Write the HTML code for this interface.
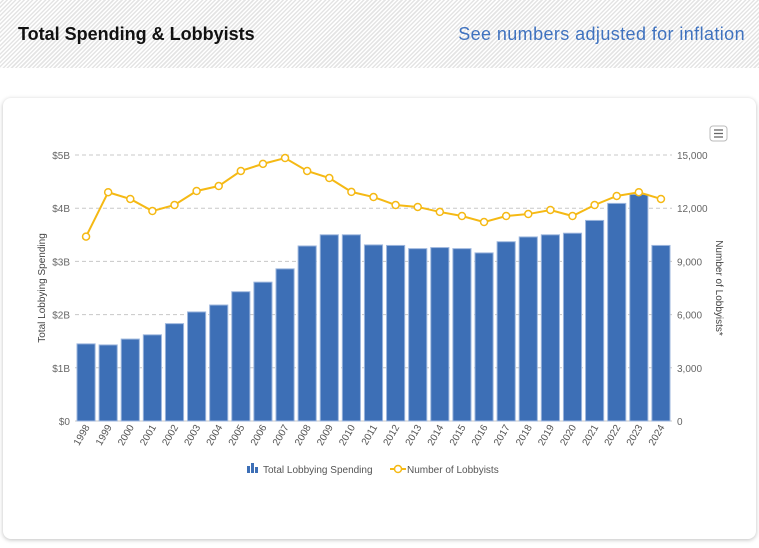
<!DOCTYPE html>
<html><head><meta charset="utf-8"><style>
html,body{margin:0;padding:0;width:759px;height:548px;overflow:hidden;background:#fff;font-family:"Liberation Sans",sans-serif}
#hdr{position:absolute;left:0;top:0;width:759px;height:68px;background:repeating-linear-gradient(135deg,#fff 0 1.5px,#e4e4e4 1.5px 3px)}
#title{position:absolute;left:18px;top:24px;font-size:18px;font-weight:bold;color:#111}
#link{position:absolute;right:14px;top:24px;font-size:18px;letter-spacing:0.4px;color:#3f72bf}
#card{position:absolute;left:3px;top:98px;width:753px;height:441px;border-radius:8px;background:#fff;box-shadow:0 1px 4px rgba(0,0,0,.25)}
svg{position:absolute;left:0;top:0}
</style></head><body>
<div id="hdr">
<div id="title">Total Spending &amp; Lobbyists</div>
<div id="link">See numbers adjusted for inflation</div>
</div>
<div id="card"></div>
<svg id="chart" width="759" height="548"></svg>
<script>
const years=["1998","1999","2000","2001","2002","2003","2004","2005","2006","2007","2008","2009","2010","2011","2012","2013","2014","2015","2016","2017","2018","2019","2020","2021","2022","2023","2024"];
const spending=[1.45,1.43,1.54,1.62,1.83,2.05,2.18,2.43,2.61,2.86,3.29,3.50,3.50,3.31,3.30,3.24,3.26,3.24,3.16,3.37,3.46,3.50,3.53,3.77,4.09,4.26,3.30];
const lobbyists=[10400,12900,12520,11840,12180,12970,13250,14100,14500,14830,14100,13700,12920,12630,12180,12070,11790,11560,11220,11560,11670,11900,11560,12180,12690,12900,12520];
const leftTicks=["$0","$1B","$2B","$3B","$4B","$5B"];
const rightTicks=["0","3,000","6,000","9,000","12,000","15,000"];
const NS="http://www.w3.org/2000/svg";
const svg=document.getElementById('chart');
const X0=75,X1=672,Y0=421,Y1=155;
const band=(X1-X0)/years.length;
const xc=i=>X0+band*(i+0.5);
const yL=v=>Y0-(v/5)*(Y0-Y1);
const yR=v=>Y0-(v/15000)*(Y0-Y1);
function el(t,a,p){const e=document.createElementNS(NS,t);for(const k in a)e.setAttribute(k,a[k]);(p||svg).appendChild(e);return e;}
for(let i=0;i<leftTicks.length;i++){
 const y=yL(i);
 const g=el('line',{x1:X0,x2:X1,y1:y,y2:y,stroke:'#c8c8c8','stroke-dasharray':i?'4,3':'',});
 
 
 const t=el('text',{x:X0-5,y:y+4,'text-anchor':'end','font-size':10,fill:'#666'});t.textContent=leftTicks[i];
 
 
 const r=el('text',{x:X1+5,y:y+4,'font-size':10,fill:'#666'});r.textContent=rightTicks[i];
 
 
}
const bw=band*0.82;
spending.forEach((v,i)=>{
 const b=el('rect',{x:xc(i)-bw/2,y:yL(v),width:bw,height:Y0-yL(v),fill:'#3d6fb6',stroke:'#9db6dd','stroke-width':1});
 
 
});
years.forEach((yr,i)=>{
 const t=el('text',{transform:`translate(${xc(i)+4},${Y0+6}) rotate(-60)`,'text-anchor':'end','font-size':10,fill:'#555'});t.textContent=yr;
 
 
});
const pl=el('polyline',{points:lobbyists.map((v,i)=>xc(i)+','+yR(v)).join(' '),fill:'none',stroke:'#f5b914','stroke-width':2});


lobbyists.forEach((v,i)=>{
 const c=el('circle',{cx:xc(i),cy:yR(v),r:3.5,fill:'#fff',stroke:'#f5b914','stroke-width':1.5});
 
 
});
const lt=el('text',{transform:'translate(45,288) rotate(-90)','text-anchor':'middle','font-size':10,fill:'#444'});lt.textContent='Total Lobbying Spending';


const rt=el('text',{transform:'translate(716,288) rotate(90)','text-anchor':'middle','font-size':10,fill:'#444'});rt.textContent='Number of Lobbyists*';


const lg=el('g',{});


[[247,466,3,7],[251,463,3,10],[255,467,3,6]].forEach(a=>el('rect',{x:a[0],y:a[1],width:a[2],height:a[3],fill:'#3d6fb6'},lg));
const l1=el('text',{x:263,y:473,'font-size':10,fill:'#555'},lg);l1.textContent='Total Lobbying Spending';


el('line',{x1:390,x2:406,y1:469,y2:469,stroke:'#f5b914','stroke-width':2},lg);
el('circle',{cx:398,cy:469,r:3.5,fill:'#fff',stroke:'#f5b914','stroke-width':1.5},lg);
const l2=el('text',{x:407,y:473,'font-size':10,fill:'#555'},lg);l2.textContent='Number of Lobbyists';


const m=el('g',{});


el('rect',{x:710,y:126,width:17,height:15,rx:3,fill:'#fff',stroke:'#bbb'},m);
[130,133.5,137].forEach(y=>el('line',{x1:714,x2:723,y1:y,y2:y,stroke:'#666','stroke-width':1.3},m));
</script>
</body></html>
